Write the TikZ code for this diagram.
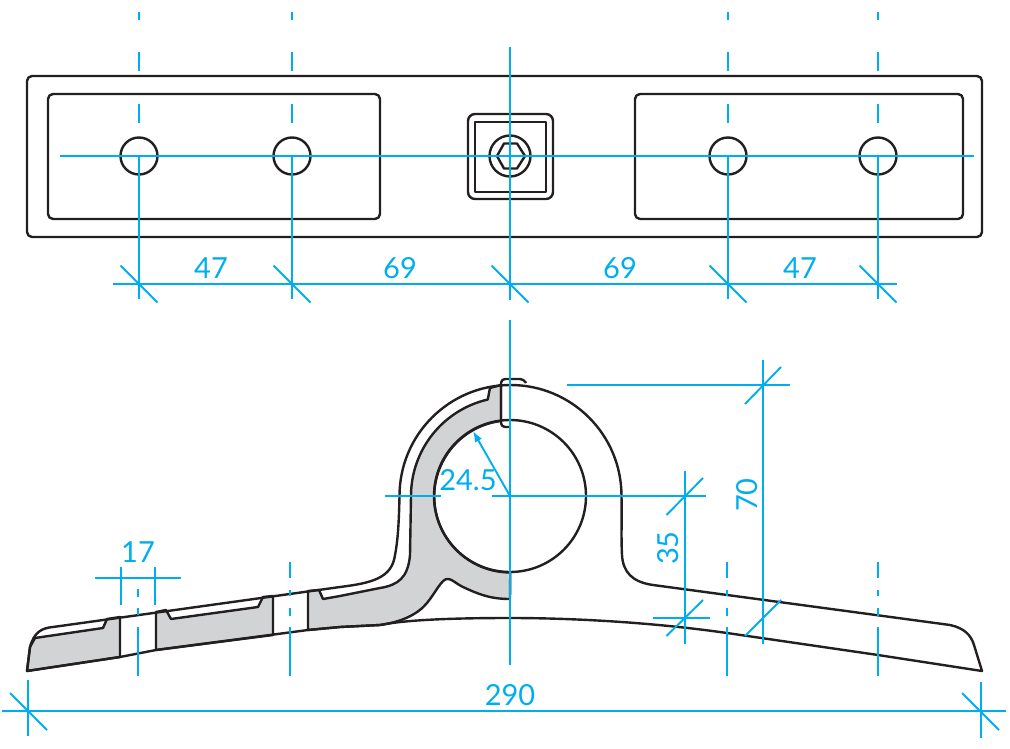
\documentclass[tikz,border=0pt]{standalone}
\usepackage{fontspec}
\setmainfont{Lato}
\usetikzlibrary{arrows.meta}
\definecolor{dimblue}{RGB}{0,174,239}
\definecolor{secgray}{RGB}{209,211,212}
\definecolor{inkline}{RGB}{35,31,32}
\tikzset{
	part/.style={draw=inkline,line width=2.4pt,line join=round},
	sect/.style={part,fill=secgray},
	dim/.style={draw=dimblue,line width=1.9pt},
	dimtext/.style={text=dimblue,inner sep=0pt,font=\fontsize{29}{29}\selectfont}
}
\begin{document}
\begin{tikzpicture}[x=1pt,y=-1pt,>={Latex[length=11pt,width=8pt]}]
	\useasboundingbox (0,0) rectangle (1010,749);
	% top view
	\draw[part,rounded corners=5pt] (27,76) rectangle (982,237);
	\draw[part,rounded corners=5pt] (48,94) rectangle (380,219);
	\draw[part,rounded corners=5pt] (635,94) rectangle (963,219);
	\foreach \hx in {139,292,728,878}
		\draw[part] (\hx,156) circle[radius=18.5];
	\draw[part,rounded corners=7pt] (468,114) rectangle (553,199);
	\draw[part] (475,122) rectangle (546,192);
	\draw[part] (510,156) circle[radius=20.5];
	\draw[part] (497,156) -- (504,143.5) -- (517,143.5) -- (525,156) -- (517,168.5) -- (504,168.5) -- cycle;
	% section view
	\draw[sect] (27,671) -- (30,647) -- (35,638) -- (103,628) -- (107,619) -- (120,617) -- (120,657) -- cycle;
	\draw[sect] (156,612) -- (166,610) -- (171,619) -- (258,607) -- (263,597) -- (273,596) -- (273,635) -- (156,650) -- cycle;
	\draw[sect] (308,591) -- (319,590) -- (323,599) -- (340,596) -- (380,588)
		.. controls (398,585) and (408,578) .. (410,555) -- (411,496)
		arc[start angle=180,end angle=257,radius=99] -- (490,388) -- (501,385) -- (501,421)
		arc[start angle=263,end angle=90,radius=76] -- (510,599)
		.. controls (490,599) and (478,594) .. (463,587)
		.. controls (455,583) and (452,579) .. (448,579)
		.. controls (442,578) and (436,592) .. (427,603)
		.. controls (418,614) and (402,622) .. (380,625) -- (340,627) -- (308,630) -- cycle;
	\draw[part] (120,617) -- (120,657);
	\draw[part] (27,671) -- (30,647) .. controls (34,632) and (42,628) .. (53,627) -- (340,587)
		.. controls (372,583) and (392,578) .. (395,555)
		.. controls (398,540) and (399,520) .. (399.5,496)
		arc[start angle=180,end angle=360,radius=111]
		.. controls (622,520) and (621,535) .. (622,555)
		.. controls (623,572) and (632,582) .. (653,585)
		-- (950,625) .. controls (964,628) and (971,635) .. (974,645) -- (982,671)
		-- (878,655) -- (727,633) .. controls (650,622) and (570,618) .. (510,618)
		.. controls (450,618) and (405,620) .. (380,625)
		-- (340,627) -- (308,630) -- (156,650) -- (120,657) -- cycle;
	\draw[part] (510,496) circle[radius=76];
	\draw[part,rounded corners=4pt] (526,383) -- (524,379) -- (501,379) -- (501,427) -- (510,427);
	% centre lines, top view
	\draw[dim] (60,156) -- (974,156);
	\draw[dim] (510,47) -- (510,300);
	\foreach \hx in {139,292,728,878}{
		\draw[dim] (\hx,12) -- (\hx,20);
		\draw[dim] (\hx,52) -- (\hx,71);
		\draw[dim] (\hx,104) -- (\hx,123);
		\draw[dim] (\hx,156) -- (\hx,299);
	}
	% dimensions, top view
	\draw[dim] (113,284) -- (897,284);
	\foreach \hx in {139,292,510,728,878}
		\draw[dim] (\hx-18.5,265.5) -- (\hx+18.5,302.5);
	\node[dimtext] (dimA) at (211,268) {47};
	\node[dimtext] (dimB) at (400,268) {69};
	\node[dimtext] (dimC) at (620,268) {69};
	\node[dimtext] (dimD) at (800,268) {47};
	% centre lines, section view
	\draw[dim] (510,320) -- (510,665);
	\foreach \hx in {290,727,878}{
		\draw[dim] (\hx,562) -- (\hx,578);
		\draw[dim] (\hx,590) -- (\hx,596);
		\draw[dim] (\hx,608) -- (\hx,616);
		\draw[dim] (\hx,627) -- (\hx,676);
	}
	\draw[dim] (138,589) -- (138,597);
	\draw[dim] (138,608) -- (138,615);
	\draw[dim] (138,627) -- (138,676);
	% dimensions, section view
	\draw[dim] (385,496) -- (441,496);
	\draw[dim] (492,496) -- (706,496);
	\draw[dim,->] (510,496) -- (473,431);
	\node[dimtext] (dimR) at (468,480) {24.5};
	\draw[dim] (685,471) -- (685,644);
	\draw[dim] (653,618) -- (710,618);
	\draw[dim] (666.5,515) -- (703,478);
	\draw[dim] (666.5,636) -- (703,600);
	\node[dimtext,rotate=90] (dimH) at (668,548) {35};
	\draw[dim] (763,360) -- (763,644);
	\draw[dim] (567,385) -- (790,385);
	\draw[dim] (745,404) -- (781,367);
	\draw[dim] (745,636) -- (781,600);
	\node[dimtext,rotate=90] (dimT) at (747,495) {70};
	\draw[dim] (95,578) -- (181,578);
	\draw[dim] (121,567) -- (121,605);
	\draw[dim] (155,567) -- (155,605);
	\node[dimtext] (dimW) at (138,552) {17};
	\draw[dim] (2,711) -- (1006,711);
	\draw[dim] (28,680) -- (28,736);
	\draw[dim] (981,682) -- (981,738);
	\draw[dim] (10,693) -- (47,730);
	\draw[dim] (962,693) -- (999,730);
	\node[dimtext] (dimL) at (510,695) {290};
\end{tikzpicture}
\end{document}
